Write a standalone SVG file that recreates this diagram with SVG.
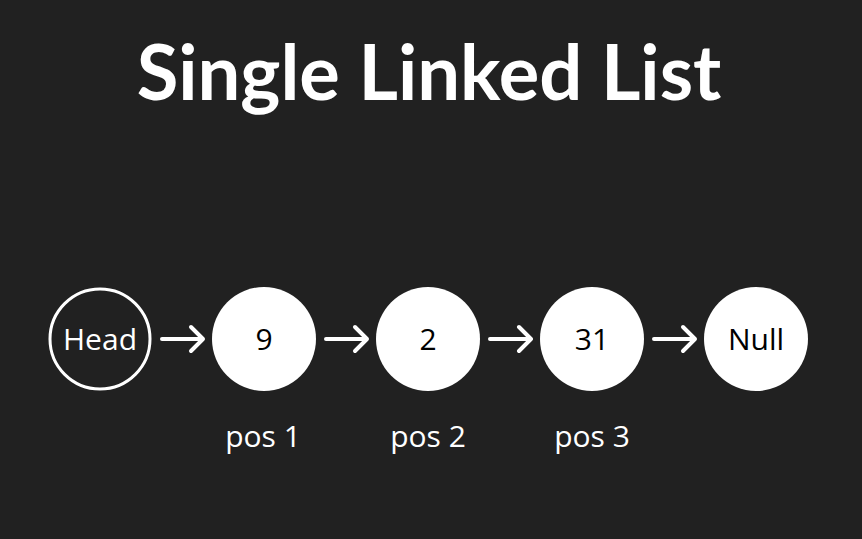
<svg xmlns="http://www.w3.org/2000/svg" width="862" height="539" viewBox="0 0 862 539">
<style>
.lbl{font-family:"Open Sans","DejaVu Sans",sans-serif;font-size:30px;text-anchor:middle}
.node{fill:#fff}
.arr{stroke:#fff;stroke-width:4;fill:none;stroke-linecap:round;stroke-linejoin:round}
</style>
<rect width="862" height="539" fill="#212121"/>
<text x="429" y="100" font-family="Lato,sans-serif" font-weight="bold" font-size="76" fill="#fff" text-anchor="middle">Single Linked List</text>
<g id="head"><circle cx="100" cy="339" r="50" fill="none" stroke="#fff" stroke-width="3"/><text class="lbl" x="100" y="350" fill="#fff">Head</text></g>
<g id="n9"><circle class="node" cx="264" cy="339" r="52"/><text class="lbl" x="264" y="350" fill="#000">9</text></g>
<g id="n2"><circle class="node" cx="428" cy="339" r="52"/><text class="lbl" x="428" y="350" fill="#000">2</text></g>
<g id="n31"><circle class="node" cx="592" cy="339" r="52"/><text class="lbl" x="592" y="350" fill="#000">31</text></g>
<g id="null"><circle class="node" cx="756" cy="339" r="52"/><text class="lbl" x="756" y="350" fill="#000">Null</text></g>
<g id="connectors">
<path class="arr" d="M162 339H203M191 327L203 339L191 351"/>
<path class="arr" d="M326 339H367M355 327L367 339L355 351"/>
<path class="arr" d="M490 339H531M519 327L531 339L519 351"/>
<path class="arr" d="M654 339H695M683 327L695 339L683 351"/>
</g>
<g id="labels">
<text class="lbl" x="263" y="447" fill="#fff">pos 1</text>
<text class="lbl" x="428" y="447" fill="#fff">pos 2</text>
<text class="lbl" x="592" y="447" fill="#fff">pos 3</text>
</g>
</svg>
